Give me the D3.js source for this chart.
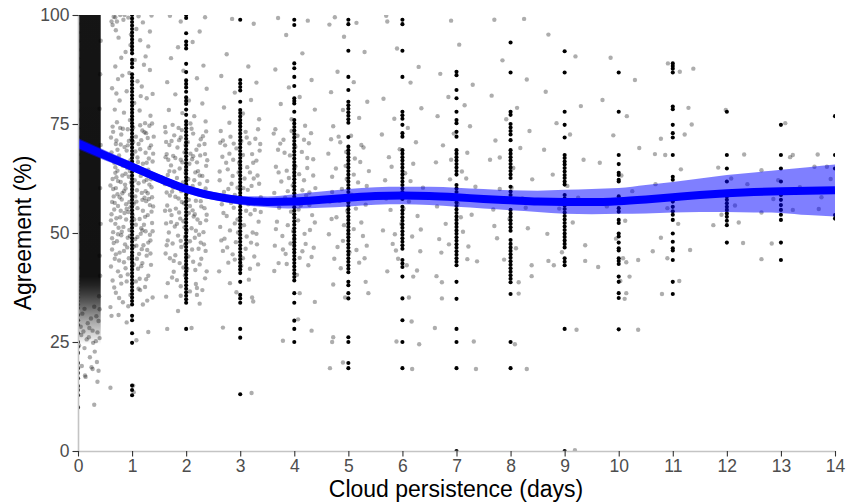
<!DOCTYPE html>
<html>
<head>
<meta charset="utf-8">
<script src="https://cdn.jsdelivr.net/npm/d3@7"></script>
<style>
  body { margin: 0; background: #fff; }
  svg { display: block; font-family: "Liberation Sans", Arial, Helvetica, sans-serif; }
</style>
</head>
<body>
<div id="vis"></div>
<script>
// tick labels
let xTicks = [0, 1, 2, 3, 4, 5, 6, 7, 8, 9, 10, 11, 12, 13, 14];
let yTicks = [0, 25, 50, 75, 100];
let days = [0, 1, 2, 3, 4, 5, 6, 7, 8, 9, 10, 11, 12, 13, 14];

// black points, agreement (%) at each whole day
let black0 = [100,98,96,94,92,90,88,86,84,82,80,78,76,74,72,70,68,66,64,62,60,58,56,54,52,50,48,46,44,42,40,39.2,38.4,37.6,36.8,36,35.2,34.4,33.6,32.8,31.2,30,28.9,27,25,23.9,22.5,20.2,19,17.9,16.7,14.9,14,12.8,10];
let black1 = [100,99.2,98.4,97.6,96.8,96,95.2,94.4,93.6,92.8,92,91.2,89.7,88.9,88,86.4,85.6,84.8,84,83.2,82.4,81.6,80.8,80,79.2,78.4,77.6,76.8,76,75.2,74.4,73.6,72.8,72,71.2,70.4,69.6,68.8,68,67.2,66.4,65.6,64.8,64,63.2,62.4,61.6,60.8,60,59.2,58.4,57.6,56.8,56,55.2,54.4,53.6,52.8,52,51.2,50.4,49.6,48.8,48,47.2,46.4,45.6,44.8,44,43.2,42.4,41.6,40.8,40,39.2,38.4,37.6,36.8,36,35.2,34.4,33.6,31,30,27,24.8,15,14,12.8];
let black2 = [100,99.3,95.8,93.9,93.1,92.3,88.8,86.9,85,84.2,83.4,82.4,81.1,80.3,79.6,78.3,77.1,75.6,74.8,74,73.2,72.4,71.6,70.8,70,69.2,68.4,67.6,66.8,66,65.2,64.4,63.6,62.8,62,61.2,60.4,59.6,58.8,58,57.2,56.4,55.6,54.8,54,53.2,52.4,51.6,50.8,50,49.2,48.4,47.6,46.8,46,45.2,44.4,43.6,42.8,42,41.2,40.4,39.6,38.8,38,37.2,36.4,35.6,34.8,34,28];
let black3 = [98.9,85.1,84.3,83.5,82.7,80.1,78.2,77.5,76.7,75.9,75.2,74.4,73.6,72.8,72,71.2,70.4,69.6,68.8,68,67.2,66.4,65.6,64.8,64,63.2,62.4,61.6,60.8,60,59.2,58.4,57.6,56.8,56,55.2,54.4,53.6,52.8,52,51.2,50.4,49.6,48.8,48,47.2,46.4,45.6,44.8,44,43.2,42.4,41.6,40.8,38.8,35.8,35,34,28,26,13];
let black4 = [98.9,97.7,88.9,87.8,85.8,83.7,80.9,80.3,79.7,77.8,75.9,75.1,74.3,73.5,72.7,71.9,71.1,70.3,69.5,68.7,67.9,67.1,66.3,65.5,64.7,63.9,63.1,62.3,61.5,60.7,59.9,59.1,58.3,57.5,56.7,55.9,55.1,54.3,53.5,52.7,51.9,51.1,50.3,49.5,48.7,47.9,47.1,46.3,45.5,44.7,43.9,43.1,42.3,41.5,40.7,39.9,39.1,36.2,34,29.9,28,25];
let black5 = [98.9,97.9,91.8,85.8,82.8,80.1,79.3,78.5,77.7,76.9,76.1,75.3,72,69.8,69,68.2,67.4,66.6,65.8,65,64.2,63.4,62.6,61.8,61,60.2,59.4,58.6,57.8,57,56.2,55.4,54.6,53.8,53,52.2,51.4,50.6,49.8,49,48.2,47.4,46.6,45.8,45,44.2,43.4,42.6,41.8,41,38.8,38,36.2,35,26.1,25,20.2,19];
let black6 = [98.9,97.9,91.8,85.8,77.8,77,76.2,74.8,72.9,72.1,69,68.2,67.4,66.6,65.8,65,64.2,63.4,62.6,61.8,61,60.2,59.4,58.6,57.8,56,55.2,54.4,53.6,52.8,52,51.2,50.4,49.6,48.8,48,47.2,46.4,43.8,43,42.2,40,35,30,25,19];
let black7 = [87,86.2,82.8,80.9,77.8,75.9,75.2,73.2,72.1,69,68.2,67.4,66.6,65.8,65,64.2,63.4,61,60.2,59.4,58.6,57.8,57,56.2,55.4,54.6,53.8,53,52.2,51.4,50.6,49.8,49,48.2,47.4,46.6,45.8,45,44.2,43.4,42.6,38.8,34.9,28,25,19,0];
let black8 = [93.7,86.8,77.8,77.1,75,74.2,73.4,72.6,71.3,69,68.2,67.4,66.6,65.8,65,64.2,63.4,62.6,60.6,59.5,58.7,57.9,55.3,54.5,53.7,52.9,52.1,51.3,50.5,48.4,47.5,46.7,45.9,45.1,44.3,43.5,42.7,41.9,41.1,40.3,39.5,38.7,36,25,19];
let black9 = [91.7,86.8,77.8,74.8,71.9,67.9,67.2,66.4,65.7,64.9,64.1,63.3,62.6,61.8,61.1,58.7,57.9,57.1,56.3,55.5,54.7,53.9,53.1,52.3,51.5,50.7,49.9,49.1,48.3,47.5,46.7,44.2,43.4,42.6,28,0];
let black10 = [86.8,77.8,67.9,65.8,63.8,63.3,62.2,61.8,58.4,57.8,57.2,55.7,54.9,53,52.3,49.9,49.2,47.8,46.5,46,44.2,43.6,42.9,40,38.8,36.2,35.1,27.9];
let black11 = [88.9,88.3,87.7,86.8,79,78.4,74.8,72.9,71.9,67.9,62.9,62.2,58.3,57.2,56,55,54.2,53,49.9,48,46.5,46,43.8,38.8,36];
let black12 = [77.8,67.9,64.8,61.8,58.4,57.6,56.8,56,55.3,54.5,53.7,52.8,51.8,47.8];
let black13 = [74.8,67.9,64.8,61.8,59.5,58.7,57.6,56.4,55.3,54.2,53,47.8,43.8];
let black14 = [76.8,67.9,64.8,54.1,53.3];
let blackByDay = [black0, black1, black2, black3, black4, black5, black6, black7,
  black8, black9, black10, black11, black12, black13, black14];

// jittered grey points [days, agreement %]
let jitterPoints = [
  // day 0 (edge and sparse tail of the crowded column)
  [0.13,17.3],[0.25,19.2],[0.35,20.4],[0.38,18.4],[0.36,15.9],[0.3,10.6],[0.07,19.5],[0.14,17],[0.27,18.8],
  [0.2,26.1],[0.28,24.8],[0.33,25.2],[0.1,27.4],[0.16,25.6],[0.38,29.8],[0.24,30.4],[0.05,28.5],[0.4,32.5],
  [0.36,27.2],[0.12,23.6],[0.31,22.8],[0.02,24.2],[0.18,29.3],[0.39,35.5],[0.41,40.2],[0.4,44.8],[0.42,52.1],
  [0.41,60.3],[0.42,70.2],[0.4,78.5],[0.41,86.4],[0.42,94.1],[0.08,31.5],[0.3,33.1],[0.22,21.5],
  [0.06,26.6],[0.34,30.9],[0.21,28.2],[0.12,32.6],[0.27,27.6],[0.4,25.9],
  // day 1
  [0.66,99.6],[0.72,98.5],[0.78,100],[0.84,98.9],[0.93,99.4],[1.12,99.7],[1.2,98.3],[1.36,99.9],[0.7,96.5],
  [1.08,96.8],[0.75,94.8],[0.98,95.5],[1.15,94.2],[0.88,91.5],[1.3,92.8],[0.8,90.2],[1.05,89.7],[0.69,88.2],
  [1.22,88.6],[0.95,86.7],[1.33,87.4],[0.74,85.3],[1.1,84.8],[0.63,83.2],[0.9,82.5],[1.18,83.6],[1.38,81.9],
  [0.77,80.4],[1.04,79.8],[1.27,80.9],[0.68,78.3],[0.85,77.6],[1.14,78.1],[1.34,76.9],[0.72,75.4],[0.96,75.9],
  [1.24,75.2],[1.37,75.1],[1.32,74.6],[0.62,98.5],[0.64,97.7],[0.69,99.5],
  [0.65,73.2],[0.8,72.6],[0.92,73.8],[1.07,72.1],[1.19,73.5],[1.29,71.8],[0.7,70.4],[0.86,69.7],[1.02,70.9],
  [1.15,69.2],[1.35,70.1],[0.62,68.5],[0.76,67.8],[0.9,68.9],[1.1,67.3],[1.25,68.4],[0.67,66.1],[0.83,65.4],
  [0.97,66.7],[1.2,65.9],[1.38,66.4],[0.73,64.3],[0.88,63.6],[1.05,64.8],[1.16,63.1],[1.3,64.5],[0.64,62.4],
  [0.79,61.7],[0.94,62.9],[1.12,61.4],[1.27,62.2],[0.7,60.3],[0.85,59.6],[1.01,60.7],[1.18,59.2],[1.36,60.5],
  [0.66,58.4],[0.81,57.7],[0.96,58.8],[1.08,57.2],[1.23,58.1],[0.74,56.2],[0.9,55.5],[1.03,56.7],[1.2,55.1],
  [1.33,56.4],[0.62,54.3],[0.78,53.6],[0.93,54.8],[1.14,53.2],[1.29,54.1],[0.69,52.1],[0.84,51.4],[0.99,52.6],
  [1.17,51.1],[1.37,52.3],[0.65,50.2],[0.8,49.5],[0.95,50.7],[1.1,49.1],[1.25,50.4],[0.72,48.1],[0.87,47.4],
  [1.06,48.6],[1.21,47.2],[1.34,48.3],[0.63,46.2],[0.77,45.5],[0.91,46.7],[1.13,45.2],[1.28,46.1],
  [0.71,71.2],[0.99,71.5],[1.31,67.1],[0.82,63.2],[1.09,59.8],[0.67,55.4],[1.26,57.3],[0.89,53.1],[1.16,49.8],
  [0.75,51.2],[1.03,46.9],[0.6,60.9],[1.39,63.3],[0.95,57.1],[1.22,61.8],[0.86,65.9],[1.12,70.4],[0.73,58.9],
  [0.61,71.9],[0.79,70.3],[0.94,71.1],[1.26,72.9],[1.39,68.2],[0.69,65.1],[1.01,67.9],[1.32,61.1],[0.87,61.1],
  [1.11,66.3],[0.63,57.1],[0.82,59.1],[1.05,62.1],[1.19,57.6],[1.36,54.9],[0.71,53.4],[0.97,55.9],[1.24,53.7],
  [0.81,50.3],[1.07,51.9],[1.33,49.6],[0.66,47.7],[0.92,48.9],[1.18,46.3],[0.76,43.7],[1.09,44.1],[1.27,44.8],
  [0.61,42.3],[0.88,41.9],[1.14,39.5],[0.69,63.8],[1.21,64.1],[0.78,74.1],[1.15,74.7],[0.96,64.2],[1.29,59.1],
  [0.74,61.9],[1.04,53.1],[0.89,56.6],[1.37,58.2],
  [0.64,74.4],[0.83,73.9],[1.02,74.2],[1.23,73.1],[1.4,72.1],[0.73,69.1],[0.92,70.1],[1.17,71.3],[1.32,69.5],
  [0.6,66.9],[0.8,66.2],[1.06,68.7],[1.27,66.1],[0.71,62.8],[0.91,64.9],[1.13,64.3],[1.35,62.3],[0.65,60.1],
  [0.88,60.2],[1.06,58.4],[1.25,59.6],[0.77,58.2],[0.98,61.6],[1.31,57.8],[0.68,56.9],[0.86,54.6],[1.1,55.7],
  [1.39,56.1],[0.61,52.9],[0.79,55.1],[1.01,54.1],[1.22,51.9],[0.74,49.7],[0.96,49.3],[1.19,50.6],[1.38,50.4],
  [0.63,48.8],[0.85,45.9],[1.08,47.1],[1.3,47.8],[0.7,45.1],[0.94,44.2],[1.17,42.4],[1.34,45.3],[0.79,40.1],
  [1.03,42.8],[1.26,39.4],[0.67,37.5],[0.9,38.9],[1.12,37.2],[0.76,35.1],[1.28,34.5],[0.93,33.2],[0.71,82],
  [1.16,81.4],[0.82,86.1],[1.25,90.5],[0.97,93.1],[1.33,96.2],[0.86,100],
  [0.68,44.1],[0.85,43.3],[1.0,44.5],[1.19,43.1],[1.35,42.7],[0.74,41.2],[0.92,40.5],[1.11,41.8],[1.3,40.2],
  [0.64,39.1],[0.8,38.4],[1.07,38.9],[1.24,37.6],[0.7,36.3],[0.97,35.8],[1.15,36.9],[1.38,35.2],[0.83,34.1],
  [1.2,33.6],[0.6,33],[0.62,31],[0.75,31.2],[0.9,29.5],[1.3,27.3],[0.6,14.5],[1.02,15],[1.03,13.5],[1.08,25.4],
  // day 2
  [1.7,99.8],[1.9,98.5],[2.35,99.5],[2.25,96.2],[1.85,92.6],[2.12,93.8],[1.72,90.1],[2.32,88.4],[1.95,87.2],
  [2.2,85.5],[1.65,84.6],[2.38,83.1],[1.8,81.8],[2.05,80.4],[2.3,79.7],[1.68,78.2],[1.93,77.5],[2.15,76.8],
  [2.36,75.6],[1.75,74.8],[2.08,75.1],
  [1.62,73.1],[1.78,72.4],[1.92,73.6],[2.13,72.8],[2.27,71.5],[1.69,70.2],[1.84,69.6],[2.03,70.8],[2.19,69.1],
  [2.34,70.4],[1.64,68.1],[1.8,67.2],[1.97,68.5],[2.11,66.9],[2.26,67.8],[1.72,65.5],[1.88,64.8],[2.06,65.9],
  [2.22,64.2],[2.37,65.4],[1.66,63.3],[1.83,62.6],[1.99,63.8],[2.15,62.1],[2.3,63.1],[1.61,61.2],[1.76,60.4],
  [1.94,61.6],[2.09,59.9],[2.25,61.3],[1.7,58.6],[1.86,57.9],[2.02,59.2],[2.18,57.4],[2.33,58.7],[1.65,56.3],
  [1.81,55.6],[1.96,56.8],[2.12,55.2],[2.28,56.1],[1.73,54.1],[1.89,53.3],[2.05,54.6],[2.21,53.1],[2.38,54.2],
  [1.63,52.2],[1.79,51.5],[1.95,52.7],[2.1,51.1],[2.26,52.3],[1.68,50.1],[1.85,49.4],[2.01,50.6],[2.16,48.9],
  [2.32,50.2],[1.75,47.6],[1.91,46.8],[2.07,48.1],[2.23,46.4],[1.62,45.3],[2.36,45.9],[1.87,71.3],[2.2,66.2],
  [1.74,59.5],[2.14,53.8],[1.98,47.3],[1.67,66.8],[2.29,59.1],
  [1.63,70.9],[1.9,71.9],[2.31,72.2],[1.76,67.7],[2.08,68.2],[2.35,68.1],[1.69,64.2],[1.93,66.2],[2.17,63.9],
  [1.85,60.9],[2.04,62.4],[2.39,61.9],[1.64,59.3],[2.21,59.7],[1.92,57.1],[2.07,56.2],[1.7,55.2],[2.34,55.7],
  [1.83,52.1],[2.18,50.5],[1.98,49.1],[1.66,48.3],[2.27,47.8],[1.8,44.9],[2.13,43.4],[1.95,42.1],[2.38,41.2],
  [1.74,39.8],[2.2,37.4],
  [1.61,74.3],[1.86,74.1],[2.1,73.9],[2.37,73.3],[1.73,71.1],[1.99,70.2],[2.24,70.1],[1.62,67.4],[1.9,66.8],
  [2.13,67.6],[2.39,66.7],[1.78,64.1],[2.0,64.9],[2.25,63.2],[1.68,61.9],[1.91,59.6],[2.12,60.8],[2.36,60.2],
  [1.8,58.3],[2.05,57.6],[2.27,57.3],[1.61,55.1],[1.87,54.7],[2.16,54.3],[2.37,52.9],[1.72,52.5],[1.97,51.3],
  [2.24,49.6],[1.64,47.2],[1.9,48.2],[2.11,46.2],[2.33,47.4],[1.77,43.6],[2.02,41.8],[2.28,44.1],[1.83,39.2],
  [2.07,36.6],[1.63,35.4],
  [1.7,44.2],[1.88,43.1],[2.04,44.6],[2.25,42.8],[1.77,41.1],[1.98,40.3],[2.17,41.5],[2.35,39.6],[1.66,38.5],
  [1.9,37.8],[2.18,38.3],[2.3,36.9],[1.9,35.6],[2.2,35.8],[2.25,33.8],[1.65,28],[2.1,28.2],[1.85,32.1],
  // day 3
  [2.85,99.1],[3.25,98],[2.75,91],[3.15,88.2],[2.65,86],[3.3,84.5],[2.9,82.2],[3.2,80.5],[2.7,78.8],[3.05,77.4],
  [3.35,76.1],[2.8,75.3],
  [2.64,73.4],[2.82,72.1],[3.1,73.2],[3.28,71.6],[2.72,70.1],[2.93,69.4],[3.17,70.6],[3.36,68.9],[2.67,67.5],
  [2.87,66.8],[3.05,67.9],[3.24,66.1],[2.77,64.6],[2.97,63.9],[3.13,65.1],[3.32,63.2],[2.62,62.1],[2.84,61.3],
  [3.08,62.5],[3.21,60.8],[2.7,59.4],[2.9,58.7],[3.14,59.9],[3.38,58.2],[2.66,56.6],[2.88,55.8],[3.03,57.1],
  [3.27,55.3],[2.75,53.9],[2.95,53.1],[3.19,54.3],[3.34,52.6],[2.63,51.4],[2.81,50.6],[3.07,51.8],[3.23,50.1],
  [2.71,48.7],[2.92,47.9],[3.12,49.2],[3.31,47.4],[2.68,45.9],[2.86,45.1],[3.1,46.4],[3.26,44.6],[2.78,43.2],
  [3.02,42.5],[2.61,41.2],[3.18,41.8],
  [2.68,71.2],[3.02,71.1],[3.33,73.8],[2.8,68.2],[3.22,68.1],[2.95,60.4],[3.35,61.3],[2.72,57.8],[3.15,56.6],
  [2.9,52.2],[3.3,49.8],[2.76,46.7],[3.05,44.2],[2.98,66.1],[3.18,63.9],
  [2.63,70.7],[2.88,70.5],[3.12,71.9],[3.37,70.4],[2.74,66.1],[3.0,65.2],[3.3,66.6],[2.62,64.1],[2.86,63.1],
  [3.25,62.5],[2.78,60.1],[3.06,60.3],[2.64,58.3],[3.0,58.4],[3.3,57.1],[2.83,56.9],[3.11,55.1],[2.69,54.6],
  [3.38,54.8],[2.96,50.1],[3.2,47.8],[2.65,48.3],[2.9,43.9],[3.33,42.8],
  [2.81,38.5],[3.16,39.3],[3.22,35.2],[2.93,36.4],[2.68,28.3],[3.21,13.3],[3.24,34.3],
  // day 4
  [3.7,99.3],[4.25,98.7],[3.85,95.4],[4.15,91.2],[3.65,87.5],[4.32,85.1],[3.9,83.4],[4.1,81.2],[3.75,79.6],
  [4.38,78.3],[3.95,76.1],[4.2,74.6],
  [3.62,72.8],[3.8,71.4],[4.06,72.3],[4.27,70.6],[3.7,69.1],[3.92,67.8],[4.14,68.6],[4.35,66.9],[3.66,65.2],
  [3.86,64.3],[4.09,63.5],[4.24,64.9],[3.76,61.8],[3.97,60.9],[4.18,62.1],[4.39,60.3],[3.63,59.2],[3.83,58.1],
  [4.04,57.4],[4.22,58.6],[3.72,55.8],[3.94,54.9],[4.12,56.3],[4.33,54.1],[3.68,52.6],[3.88,51.8],[4.07,52.9],
  [4.29,50.7],[3.78,49.3],[4.0,48.5],[4.19,49.8],[3.64,47.1],[4.36,46.6],[3.84,45.2],[4.1,44.3],[3.71,43.1],
  [4.26,42.6],
  [3.74,70.5],[4.02,69.8],[4.31,72.9],[3.9,62.6],[4.15,59.8],[3.67,57.6],[4.28,56.4],[3.98,50.4],[4.21,47.5],
  [3.79,46.2],
  [3.65,73.8],[3.95,73.4],[4.18,71.4],[3.82,68.4],[4.24,67.2],[3.71,63.9],[4.02,65.3],[4.35,63.2],[3.88,59.6],
  [4.28,59.3],[3.76,57.1],[4.08,55.4],[4.38,52.4],[3.66,50.9],[3.93,47.6],[4.15,45.8],[3.86,42.9],[4.32,44.5],
  [3.63,41.3],[4.05,40.4],[4.1,36.2],[4.38,34.2],[4.32,27.6],[4.07,30.2],[3.79,25.3],
  // day 5
  [4.75,99.5],[5.15,98.2],[4.65,97.8],[4.92,95],[5.3,91.5],[4.8,87],[5.1,84.6],[4.68,82.3],[5.35,80.1],
  [4.9,78.2],[5.2,76.4],[4.72,74.5],
  [5.05,72.3],[4.85,70.8],[5.28,69.6],[4.63,68.2],[5.12,67.1],[4.95,65.4],[5.38,64.2],[4.7,62.9],[5.18,61.6],
  [4.88,60.1],[5.06,58.8],[4.66,57.2],[5.32,56.5],[4.98,55.1],[4.78,53.6],[5.24,52.4],[5.1,50.9],[4.64,49.7],
  [4.9,48.2],[5.34,47.1],[5.02,45.6],[4.74,44.1],[5.2,43.2],[4.86,41.9],
  [4.82,72.1],[5.24,70.2],[4.97,62.4],[4.7,59.4],[5.28,58.6],[4.92,51.8],[5.15,46.1],
  [4.68,71.5],[4.96,68.6],[5.22,66.3],[4.77,64.8],[5.1,63.4],[5.34,60.8],[4.84,57.4],[5.14,55.6],[4.69,53.2],
  [5.0,49.6],[5.27,49.3],[4.8,46.8],
  [4.72,38.2],[5.32,38.8],[5.37,36.2],[4.94,35.2],[4.72,26.1],[4.7,25],[4.66,19],[4.9,20.3],[5.3,44.2],
  // day 6
  [5.7,99.8],[5.72,98.5],[6.3,88.1],[5.9,92.3],[6.15,84.5],[5.65,80.8],[6.35,78.6],[5.85,76.2],[6.1,74.1],
  [5.62,72.6],[6.25,70.8],[5.95,69.2],[5.75,67.4],[6.2,65.9],[6.05,63.7],[5.68,62.1],[6.38,60.4],[5.88,58.6],
  [6.12,57.2],[5.78,55.3],[6.28,53.9],[5.98,52.1],[5.64,50.6],[6.18,49.2],[5.82,47.5],[6.33,45.8],[5.92,44.1],
  [6.08,42.6],[5.72,41.2],[6.27,41.4],[6.2,40],[6.12,35.2],[6.17,29.7],[5.89,25.1],[6.31,24.5],[6.18,18.8],[5.88,46],
  [5.8,65.2],[6.15,61.9],[5.7,57.9],[6.02,55.6],[6.34,50.8],[5.86,49.7],
  // day 7
  [6.9,98.7],[7.05,93.2],[6.7,86.5],[7.3,84],[6.85,81.2],[7.15,79.3],[6.65,76.8],[7.25,74.5],[6.95,72.8],
  [6.75,70.1],[7.2,68.4],[6.62,66.2],[7.1,64.1],[6.88,62.3],[7.35,60.6],[6.72,58.4],[7.02,56.7],[7.28,54.2],
  [6.8,52.1],[7.12,50.3],[6.68,48.6],[7.22,46.9],[6.72,45.5],[7.2,44],[7.38,43.5],[6.63,40.1],[6.73,38.7],
  [6.73,35],[6.6,28.2],[7.32,25.1],[7.36,18.8],
  [6.9,66.8],[7.18,62.5],[6.64,56.1],[7.08,53.6],[6.86,47.4],
  // day 8
  [7.7,98.9],[8.25,99.1],[7.85,89.6],[8.3,85.2],[7.65,81.5],[8.12,78.7],[7.92,76.1],[8.35,73.4],[7.72,71.2],
  [8.18,69.5],[7.62,66.8],[8.05,64.9],[8.4,62.3],[7.8,60.1],[8.22,57.9],[7.68,55.4],[7.98,53.2],[8.32,51.1],
  [7.75,48.8],[8.1,46.5],[7.88,43.9],[8.39,42.6],[8.39,40.1],[8.15,38.7],[8.15,36.1],[8.08,24.5],[8.3,18.8],
  [7.8,67.3],[8.02,60.4],[8.28,55.8],[7.7,51.6],
  // day 9
  [8.7,95.5],[9.2,90.5],[8.65,82.4],[9.3,79.1],[8.85,75.2],[9.1,72.6],[8.62,69.1],[9.35,66.8],[8.78,63.4],
  [9.05,60.8],[9.25,58.1],[8.9,55.6],[9.15,52.4],[8.68,49.8],[9.38,47.2],[8.95,45.6],[8.7,43.6],[8.8,42.6],
  [9.38,43.6],[9.22,27.8],[9.19,0.2],
  // day 10
  [9.85,90.2],[10.3,85.1],[9.7,80.5],[10.15,76.8],[9.9,72.4],[10.38,69.5],[9.65,66.1],[10.05,63.2],[10.25,59.6],
  [9.78,56.1],[10.12,52.8],[9.95,48.7],[10.08,44.2],[10.14,43.3],[10.36,43.8],[10.2,40],[10.03,39],
  [10.14,36.2],[10.11,34.9],[10.36,27.8],[9.62,42.2],
  // day 11
  [10.91,88.9],[11.13,87],[11.38,87.7],[11.29,78.7],[11.35,74.9],[11.22,72.6],[10.78,71.6],[10.86,67.9],
  [10.67,68.1],[11.15,64.6],[10.68,61.2],[11.25,58.4],[10.9,55.7],[11.1,52.1],[10.78,48.9],[11.32,46.1],
  [10.63,45.8],[10.9,44.2],[11.12,39],[10.8,36],
  // day 12
  [11.98,78.2],[12.32,68],[11.84,65],[11.75,51.8],[12.3,47.7],[12.15,56.3],[11.65,58.9],[12.38,61.2],
  [11.9,54.2],[12.08,62.5],[12.22,52.4],
  // day 13
  [12.64,64.4],[12.64,54.7],[12.83,47.6],[12.86,57.8],[13.08,75.2],[13.22,67.9],[13.17,67.4],[13.22,55.3],
  [12.64,44],[13.35,60.5],[12.95,62.1],
  // day 14
  [13.68,68],[13.62,65.2],[13.85,65.2],[13.75,58.2],[13.92,62.4],[13.7,55.5]
];

// crowded day-0 column: darkness read at levels [agreement %, darkness]
let zeroShade = [[100,0.92],[40,0.93],[38,0.86],[36,0.76],[34,0.64],[32,0.5],[30,0.36],[28,0.24],[26,0.12],[24.5,0]];

// smooth fit and its confidence band
let fitX = [0,0.5,1,1.5,2,2.5,3,3.5,4,4.5,5,5.5,6,6.5,7,7.5,8,8.5,9,9.5,10,10.5,11,11.5,12,12.5,13,13.5,14];
let fitY = [70.5,67.8,65.2,62.5,60.1,58.5,57.5,57.1,57.2,57.6,58.1,58.5,58.6,58.5,58.2,57.8,57.5,57.2,57.1,57.1,57.3,57.7,58.2,58.7,59.1,59.4,59.6,59.7,59.8];
let fitHi = [71.8,69,66.2,63.4,61,59.4,58.5,58.4,58.9,59.5,60.1,60.5,60.6,60.6,60.4,60.1,59.8,59.7,59.9,60.1,60.3,61,61.7,62.5,63.3,63.9,64.5,65.1,65.7];
let fitLo = [69.2,66.6,64.3,61.6,59.2,57.6,56.5,55.9,55.6,55.8,56.1,56.5,56.6,56.4,56,55.6,55.2,54.8,54.4,54.3,54.4,54.5,54.7,54.8,54.8,54.7,54.6,54.1,53.8];

let width = 846, height = 504;
let margin = {top: 15, right: 11, bottom: 53, left: 78};

let x = d3.scaleLinear().domain([0, 14]).range([margin.left, width - margin.right]);
let y = d3.scaleLinear().domain([0, 100]).range([height - margin.bottom, margin.top]);

let svg = d3.select('#vis').append('svg')
  .attr('width', width)
  .attr('height', height);

let defs = svg.append('defs');
defs.append('clipPath').attr('id', 'panel')
  .append('rect')
  .attr('x', x(0)).attr('y', y(100))
  .attr('width', x(14) - x(0)).attr('height', y(0) - y(100));

// vertical gradient for the crowded column, in user space so stops follow the y scale
let grad = defs.append('linearGradient')
  .attr('id', 'zeroGrad')
  .attr('gradientUnits', 'userSpaceOnUse')
  .attr('x1', 0).attr('x2', 0)
  .attr('y1', y(100)).attr('y2', y(0));
grad.selectAll('stop')
  .data(zeroShade)
  .join('stop')
  .attr('offset', d => (y(d[0]) - y(100)) / (y(0) - y(100)))
  .attr('stop-color', '#000')
  .attr('stop-opacity', d => d[1]);

let plot = svg.append('g').attr('clip-path', 'url(#panel)');

// day 0 column
plot.append('rect')
  .attr('x', x(0))
  .attr('width', x(0.42) - x(0))
  .attr('y', y(100))
  .attr('height', y(0) - y(100))
  .attr('fill', 'url(#zeroGrad)');

// jittered points
plot.append('g').selectAll('circle')
  .data(jitterPoints)
  .join('circle')
  .attr('cx', d => x(d[0]))
  .attr('cy', d => y(d[1]))
  .attr('r', 2.2)
  .attr('fill', '#000')
  .attr('fill-opacity', 0.32);

// points at whole days
let blackPoints = blackByDay.flatMap((vals, i) => vals.map(v => [days[i], v]));
plot.append('g').selectAll('circle')
  .data(blackPoints)
  .join('circle')
  .attr('cx', d => x(d[0]))
  .attr('cy', d => y(d[1]))
  .attr('r', 2.05)
  .attr('fill', '#000');

// confidence band
let fit = fitX.map((d, i) => ({x: d, y: fitY[i], lo: fitLo[i], hi: fitHi[i]}));
plot.append('path')
  .datum(fit)
  .attr('fill', '#0000ff')
  .attr('fill-opacity', 0.5)
  .attr('d', d3.area().curve(d3.curveMonotoneX)
    .x(d => x(d.x)).y0(d => y(d.lo)).y1(d => y(d.hi)));

plot.append('path')
  .datum(fit)
  .attr('fill', 'none')
  .attr('stroke', '#0000ff')
  .attr('stroke-width', 8)
  .attr('d', d3.line().curve(d3.curveMonotoneX)
    .x(d => x(d.x)).y(d => y(d.y)));

// axes
let yAxis = svg.append('g')
  .attr('transform', 'translate(' + x(0) + ',0)')
  .call(d3.axisLeft(y).tickValues(yTicks).tickSize(5.5).tickSizeOuter(0).tickPadding(3));
let xAxis = svg.append('g')
  .attr('transform', 'translate(0,' + y(0) + ')')
  .call(d3.axisBottom(x).tickValues(xTicks).tickSize(5.5).tickSizeOuter(0).tickPadding(3.5));

[xAxis, yAxis].forEach(g => {
  g.select('.domain').attr('stroke', '#c4c4c4').attr('stroke-width', 1.6);
  g.selectAll('.tick line').attr('stroke', '#333').attr('stroke-width', 1.1);
  g.selectAll('.tick text')
    .attr('fill', '#4d4d4d')
    .style('font-size', '17.5px')
    .style('font-family', '"Liberation Sans", Arial, Helvetica, sans-serif');
});

// axis titles
svg.append('text')
  .attr('x', 456)
  .attr('y', 497)
  .attr('text-anchor', 'middle')
  .style('font-size', '23px')
  .attr('fill', '#000')
  .text('Cloud persistence (days)');

svg.append('text')
  .attr('transform', 'translate(31,233) rotate(-90)')
  .attr('text-anchor', 'middle')
  .style('font-size', '23px')
  .attr('fill', '#000')
  .text('Agreement (%)');
</script>
</body>
</html>
